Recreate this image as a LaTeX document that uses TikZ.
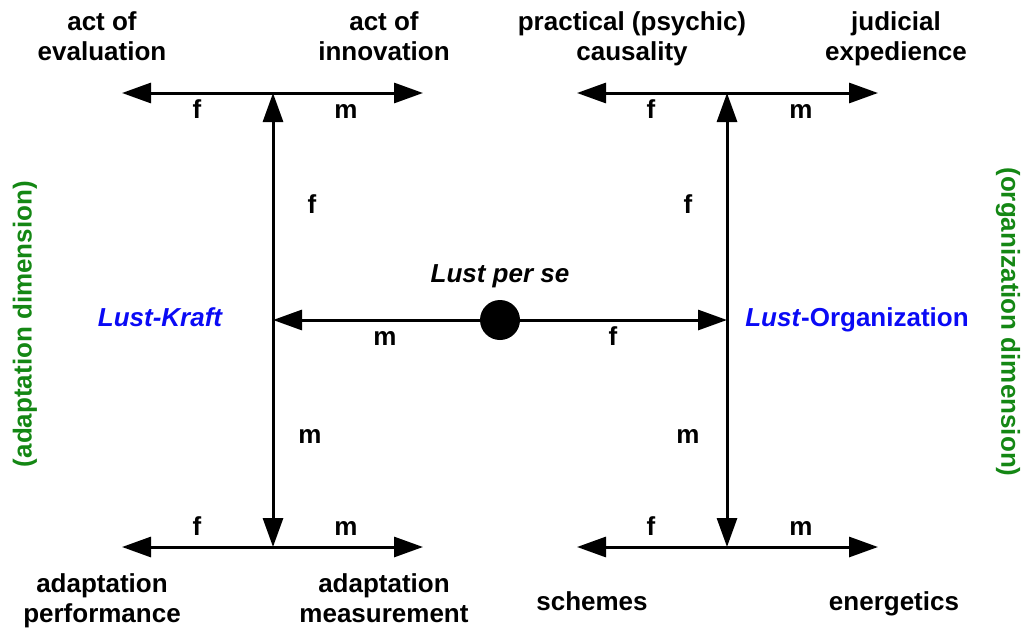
\documentclass[tikz,border=0pt]{standalone}
\usepackage{fontspec}
\setmainfont{Liberation Sans}
\usetikzlibrary{arrows.meta}
\definecolor{dimgreen}{RGB}{20,135,20}
\definecolor{lustblue}{RGB}{10,10,245}
\begin{document}
\begin{tikzpicture}[x=1pt,y=-1pt,
  lab/.style={font=\fontsize{26}{30}\selectfont\bfseries, inner sep=0pt, anchor=base, align=center},
  fm/.style={lab},
  dim/.style={font=\fontsize{26}{30}\selectfont\bfseries, inner sep=0pt, text=dimgreen},
  lust/.style={lab, text=lustblue},
  conn/.style={line width=3pt, -{Triangle[length=29pt,width=20pt]}},
  dotnode/.style={circle, fill=black, minimum size=40pt, inner sep=0pt}
]
\useasboundingbox (0,0) rectangle (1024,634);

% junction coordinates
\coordinate (LT) at (273,93);
\coordinate (LM) at (273,320);
\coordinate (LB) at (273,547);
\coordinate (RT) at (727,93);
\coordinate (RM) at (727,320);
\coordinate (RB) at (727,547);
\coordinate (LTl) at (122,93);
\coordinate (LTr) at (423,93);
\coordinate (LBl) at (122,547);
\coordinate (LBr) at (423,547);
\coordinate (RTl) at (577,93);
\coordinate (RTr) at (878,93);
\coordinate (RBl) at (577,547);
\coordinate (RBr) at (878,547);

\node[dotnode] (dot) at (500,320) {};

% connectors
\draw[conn] (LT) -- (LTl);
\draw[conn] (LT) -- (LTr);
\draw[conn] (LB) -- (LBl);
\draw[conn] (LB) -- (LBr);
\draw[conn] (RT) -- (RTl);
\draw[conn] (RT) -- (RTr);
\draw[conn] (RB) -- (RBl);
\draw[conn] (RB) -- (RBr);
\draw[conn] (LM) -- (LT);
\draw[conn] (LM) -- (LB);
\draw[conn] (RM) -- (RT);
\draw[conn] (RM) -- (RB);
\draw[conn] (dot.west) -- (LM);
\draw[conn] (dot.east) -- (RM);

% top texts (anchor = baseline of last line)
\node[lab] (evaluation) at (102,60) {act of\\evaluation};
\node[lab] (innovation) at (384,60) {act of\\innovation};
\node[lab] (causality) at (632,60) {practical (psychic)\\causality};
\node[lab] (expedience) at (896,60) {judicial\\expedience};

% bottom texts
\node[lab] (performance) at (102,622) {adaptation\\performance};
\node[lab] (measurement) at (384,622) {adaptation\\measurement};
\node[lab] (schemes) at (592,610) {schemes};
\node[lab] (energetics) at (894,610) {energetics};

% f / m labels
\node[fm] (fTL) at (197,118) {f};
\node[fm] (mTL) at (346,118) {m};
\node[fm] (fTR) at (651,118) {f};
\node[fm] (mTR) at (801,118) {m};
\node[fm] (fBL) at (197,535) {f};
\node[fm] (mBL) at (346,535) {m};
\node[fm] (fBR) at (651,535) {f};
\node[fm] (mBR) at (801,535) {m};
\node[fm] (fVL) at (312,213) {f};
\node[fm] (fVR) at (688,213) {f};
\node[fm] (mVL) at (310,443) {m};
\node[fm] (mVR) at (688,443) {m};
\node[fm] (mM) at (385,345) {m};
\node[fm] (fM) at (613,345) {f};

% central labels
\node[lab] (perse) at (500,282) {\itshape Lust per se};
\node[lust] (kraft) at (160,326) {\itshape Lust-Kraft};
\node[lust] (organization) at (857,326) {\textit{Lust}-Organization};

% dimension labels
\node[dim, rotate=90] (adim) at (25,324) {(adaptation dimension)};
\node[dim, rotate=-90] (odim) at (1008,322) {(organization dimension)};
\end{tikzpicture}
\end{document}
